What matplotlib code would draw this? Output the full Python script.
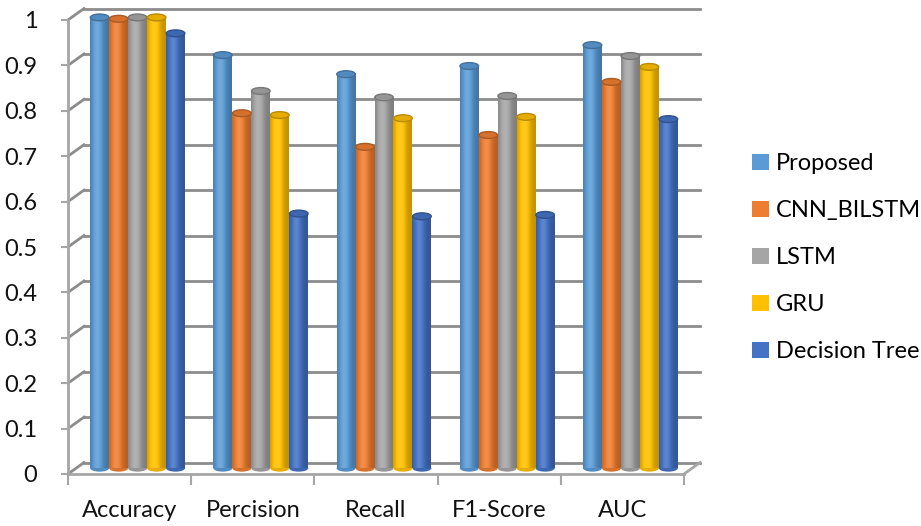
import numpy as np
import matplotlib
matplotlib.use("Agg")
import matplotlib.pyplot as plt
from matplotlib.patches import Ellipse, Patch
from matplotlib.colors import to_rgb

plt.rcParams['font.family'] = ['Lato', 'DejaVu Sans']

# ---------------- data ----------------
metrics = ["Accuracy", "Percision", "Recall", "F1-Score", "AUC"]
models = ["Proposed", "CNN_BILSTM", "LSTM", "GRU", "Decision Tree"]

proposed = [0.993, 0.910, 0.868, 0.886, 0.932]
cnn_bilstm = [0.990, 0.782, 0.708, 0.734, 0.851]
lstm = [0.993, 0.831, 0.817, 0.820, 0.908]
gru = [0.993, 0.778, 0.771, 0.774, 0.884]
decision_tree = [0.958, 0.561, 0.555, 0.558, 0.769]

series = [proposed, cnn_bilstm, lstm, gru, decision_tree]
colors = ["#5B9BD5", "#ED7D31", "#A5A5A5", "#FFC000", "#4472C4"]

y_ticks = np.round(np.arange(0, 1.01, 0.1), 1)

# ---------------- 3d-ish layout ----------------
DEPTH_X = 0.13     # back wall shift (data units)
DEPTH_Y = 0.0253
MID_X = DEPTH_X / 2
MID_Y = DEPTH_Y / 2
BAR_W = 0.154
CAP_H = 0.015
GRID_C = "#8C8C8C"
AXIS_C = "#A6A6A6"
FS = 17


def shade(rgb, m):
    rgb = np.array(rgb)
    if m >= 1:
        return rgb + (1 - rgb) * (m - 1)
    return rgb * m


def cylinder_image(color, n=40):
    base = to_rgb(color)
    t = np.linspace(0, 1, n)
    mult = 0.76 + 0.38 * np.exp(-((t - 0.38) / 0.3) ** 2)
    row = np.array([shade(base, m) for m in mult])
    return np.clip(row[np.newaxis, :, :], 0, 1)


fig = plt.figure(figsize=(9.21, 5.26), dpi=100)
ax = fig.add_axes([68 / 921, 52 / 526, 616 / 921, 454 / 526])
ax.set_xlim(-0.5, 4.5)
ax.set_ylim(0, 1)

# back wall gridlines + side wall diagonals
for v in y_ticks:
    ax.plot([-0.5 + DEPTH_X, 4.5 + DEPTH_X], [v + DEPTH_Y, v + DEPTH_Y],
            color=GRID_C, lw=2, zorder=1, clip_on=False)
    ax.plot([-0.5, -0.5 + DEPTH_X], [v, v + DEPTH_Y],
            color=GRID_C, lw=2, zorder=1, clip_on=False)

# floor
ax.plot([-0.5, 4.5], [0, 0], color=AXIS_C, lw=2, zorder=1, clip_on=False)
ax.plot([4.5, 4.5 + DEPTH_X], [0, DEPTH_Y], color=AXIS_C, lw=2, zorder=1, clip_on=False)

# cylinders
x = np.arange(len(metrics))
offsets = (np.arange(len(models)) - 2) * BAR_W
for vals, col, off in zip(series, colors, offsets):
    xc = x + off + MID_X
    bars = ax.bar(xc, vals, width=BAR_W, bottom=MID_Y, color=col,
                  linewidth=0, zorder=3, clip_on=False)
    img = cylinder_image(col)
    dark = shade(to_rgb(col), 0.72)
    for b, xi, v in zip(bars, xc, vals):
        # rounded bottom
        ax.add_patch(Ellipse((xi, MID_Y), BAR_W, CAP_H, facecolor=shade(to_rgb(col), 0.9),
                             edgecolor="none", zorder=2.9, clip_on=False))
        im = ax.imshow(img, extent=(xi - BAR_W / 2, xi + BAR_W / 2, MID_Y, MID_Y + v),
                       aspect="auto", zorder=3.1, interpolation="bilinear")
        im.set_clip_path(b)
        im.set_clip_box(None)
        # top cap
        ax.add_patch(Ellipse((xi, MID_Y + v), BAR_W * 0.98, CAP_H,
                             facecolor=shade(to_rgb(col), 0.9), edgecolor=dark,
                             lw=1.0, zorder=3.5, clip_on=False))

ax.set_xlim(-0.5, 4.5)
ax.set_ylim(0, 1)

# axes / ticks
for s in ["top", "right", "bottom"]:
    ax.spines[s].set_visible(False)
ax.spines["left"].set_color(AXIS_C)
ax.spines["left"].set_linewidth(2)
ax.spines["left"].set_zorder(1)

ax.set_yticks(y_ticks)
ax.set_yticklabels([f"{v:g}" for v in y_ticks])
ax.tick_params(axis="y", length=5, width=1.5, color=AXIS_C, pad=17,
               labelsize=FS, labelcolor="#111111")

ax.set_xticks(x)
ax.set_xticklabels(metrics)
ax.set_xticks(np.arange(-0.5, 4.6, 1), minor=True)
ax.tick_params(axis="x", which="major", length=0, pad=19,
               labelsize=FS, labelcolor="#111111")
ax.tick_params(axis="x", which="minor", length=8, width=1.5, color=AXIS_C)

handles = [Patch(facecolor=c, edgecolor="none") for c in colors]
fig.legend(handles, models, loc="center left", bbox_to_anchor=(752 / 921, 0.51),
           frameon=False, fontsize=FS, handlelength=0.7, handleheight=0.7,
           handletextpad=0.3, labelspacing=1.1, borderaxespad=0, borderpad=0)

fig.savefig("out.png", dpi=100)
